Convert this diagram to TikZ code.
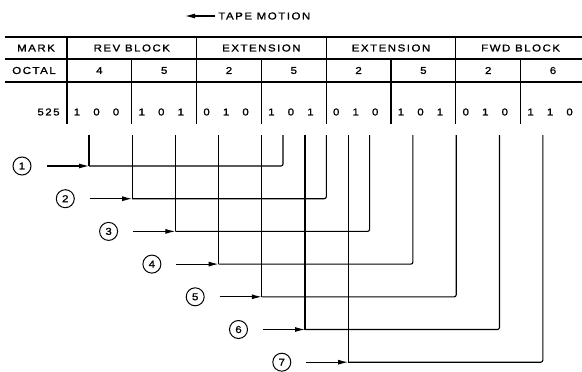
\documentclass[tikz,border=0pt]{standalone}
\usepackage{fontspec}
\setmainfont{Liberation Sans}[FakeStretch=1.15,LetterSpace=15,FakeBold=1.2]
\usetikzlibrary{arrows.meta,positioning}

\begin{document}
\begin{tikzpicture}[x=1pt,y=-1pt,>={Latex[length=10pt,width=5pt]},line width=1.1pt,
    font=\fontsize{10}{12}\selectfont,
    callout/.style={draw, circle, minimum size=18pt, inner sep=0pt, line width=1pt}]
  \useasboundingbox (0,0) rectangle (582,372);

  % Tape direction
  \node (tape) [anchor=west] at (214.5,16) {TAPE MOTION};
  \coordinate (tapetip) at (185,16);
  \draw[->] (tape) -- (tapetip);

  % Table rules
  \foreach \y in {37,59,82} \draw (5,\y) -- (582,\y);
  \foreach \x in {67,196.6,326.2,455.8} \draw (\x,37) -- (\x,124);
  \foreach \x in {131.8,261.4,391,520.6} \draw (\x,59) -- (\x,124);

  % Header rows
  \node (mark)  at (36,48) {MARK};
  \node (rev)   at (131.8,48) {REV BLOCK};
  \node (ext1)  at (261.4,48) {EXTENSION};
  \node (ext2)  at (391,48) {EXTENSION};
  \node (fwd)   at (520.6,48) {FWD BLOCK};
  \node (octal) at (34,70.5) {OCTAL};
  \foreach \d [count=\i from 0] in {4,5,2,5,2,5,2,6}
    \node (oct\i) at ({99.4+64.8*\i},70.5) {\d};

  % Bit row
  \node (val) [anchor=east] at (63.5,112) {525};
  \foreach \b [count=\i from 0] in {1,0,0,1,0,1,0,1,0,1,0,1,0,1,0,1,0,1,0,1,0,1,1,0}
    \node (bit\i) at ({77+64.8*int(\i/3)+19.5*mod(\i,3)},112) {\b};

  % Sampling paths
  \foreach \n in {1,...,7} {
    \node (c\n) [callout] at ({22+43.3*(\n-1)},{166+32.7*(\n-1)}) {\n};
    \coordinate (t\n) at ({89+43.2*(\n-1)},135);
    \coordinate (a\n) at (t\n |- c\n);
    \coordinate (u\n) at ({283+43.3*(\n-1)},135);
    \coordinate (r\n) at (u\n |- c\n);
    \draw[->, shorten <=15pt] (c\n) -- (a\n);
    \draw (t\n) -- (a\n);
    \draw[rounded corners=2pt] (a\n) -- (r\n) -- (u\n);
  }
\end{tikzpicture}
\end{document}
